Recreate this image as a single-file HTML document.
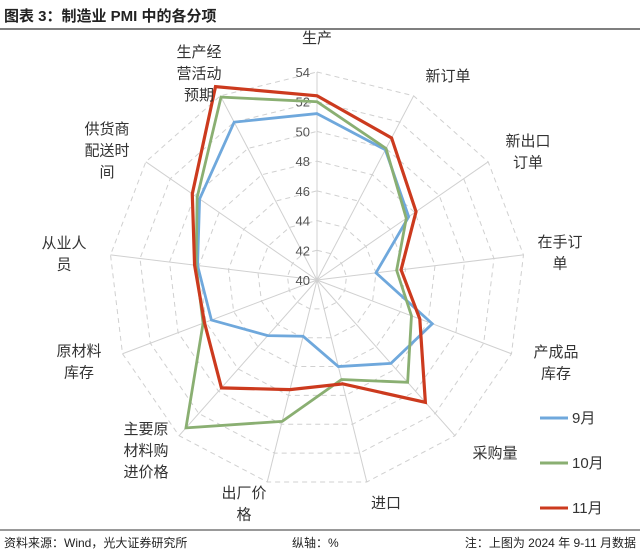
<!DOCTYPE html>
<html><head><meta charset="utf-8"><style>
body{margin:0;width:640px;height:555px;background:#fff;overflow:hidden;font-family:"Liberation Sans","Noto Sans CJK SC",sans-serif;}
svg text{font-family:"Liberation Sans","Noto Sans CJK SC",sans-serif;}
</style></head><body>
<svg id="chart" width="640" height="555">
<text x="4" y="21" font-size="15" font-weight="bold" fill="#222">图表 3：制造业 PMI 中的各分项</text>
<line x1="0" y1="29" x2="640" y2="29" stroke="#333" stroke-width="1.2"/>
<line x1="0" y1="530" x2="640" y2="530" stroke="#333" stroke-width="1"/>
<text x="4" y="547" font-size="12" fill="#222">资料来源：Wind，光大证券研究所</text>
<text x="292" y="547" font-size="12" fill="#222">纵轴：%</text>
<text x="636" y="547" font-size="12" fill="#222" text-anchor="end">注：上图为 2024 年 9-11 月数据</text>
<g id="grid"></g><g id="series"></g><g id="labels"></g><g id="legend"></g>
</svg>
<script>
const categories=["生产","新订单","新出口订单","在手订单","产成品库存","采购量","进口","出厂价格","主要原材料购进价格","原材料库存","从业人员","供货商配送时间","生产经营活动预期"];
const sep=[51.2,49.9,47.5,44.0,48.3,47.5,46.0,43.9,45.0,47.6,48.1,49.6,52.0];
const oct=[52.0,50.0,47.3,45.4,46.8,49.2,46.9,49.8,53.3,48.2,48.2,49.8,53.9];
const nov=[52.4,50.8,48.1,45.7,47.4,51.0,47.2,47.6,49.7,48.1,48.3,50.2,54.7];
const ticks=[40,42,44,46,48,50,52,54];
const seriesNames=["9月","10月","11月"];
const seriesColors=["#6fa8dc","#8aaf72","#cc3a1e"];
const labelLines=[["生产"],["新订单"],["新出口","订单"],["在手订","单"],["产成品","库存"],["采购量"],["进口"],["出厂价","格"],["主要原","材料购","进价格"],["原材料","库存"],["从业人","员"],["供货商","配送时","间"],["生产经","营活动","预期"]];
const labelAnchors=[[317,37],[448,75],[528,140],[560,241],[556,351],[495,452],[386,502],[244,492],[146,428],[79,350],[64,242],[107,128],[199,51]];
const cx=317,cy=280,R=208,vmin=40,vmax=54;
const NS="http://www.w3.org/2000/svg";
function r(v){return (v-vmin)/(vmax-vmin)*R;}
function ang(i){return i*2*Math.PI/categories.length;}
function pt(i,v){const a=ang(i),rr=r(v);return [cx+rr*Math.sin(a),cy-rr*Math.cos(a)];}
function mk(t,attrs,parent){const e=document.createElementNS(NS,t);for(const k in attrs)e.setAttribute(k,attrs[k]);parent.appendChild(e);return e;}
const grid=document.getElementById('grid');
ticks.forEach(function(t){
  if(t===vmin)return;
  const p=categories.map(function(c,i){return pt(i,t).join(',');}).join(' ');
  const g=mk('polygon',{points:p,fill:'none',stroke:'#d0d0d0','stroke-dasharray':'5,4','stroke-width':1},grid);
  
  
});
categories.forEach(function(c,i){
  const p=pt(i,vmax);
  const l=mk('line',{x1:cx,y1:cy,x2:p[0],y2:p[1],stroke:'#d0d0d0','stroke-width':1},grid);
  
  
});
ticks.forEach(function(t){
  const tx=mk('text',{x:cx-7,y:cy-r(t)+5,'font-size':13,fill:'#555','text-anchor':'end'},grid);
  tx.textContent=t;
  
  
});
const sg=document.getElementById('series');
[sep,oct,nov].forEach(function(vals,s){
  const p=vals.map(function(v,i){return pt(i,v).join(',');}).join(' ');
  const pg=mk('polygon',{points:p,fill:'none',stroke:seriesColors[s],'stroke-width':s===2?3.2:2.8,'stroke-linejoin':'miter'},sg);
  
  
});
const lg=document.getElementById('labels');
categories.forEach(function(c,i){
  const lines=labelLines[i];
  const lh=21.5;
  const xx=labelAnchors[i][0],y0=labelAnchors[i][1]+6;
  const tx=mk('text',{x:xx,y:y0,'font-size':15,fill:'#333','text-anchor':'middle'},lg);
  
  
  lines.forEach(function(L,k){const ts=mk('tspan',{x:xx,dy:k===0?0:lh},tx);ts.textContent=L;});
});
const leg=document.getElementById('legend');
seriesNames.forEach(function(n,s){
  const y=418+s*45;
  const ln=mk('line',{x1:540,y1:y,x2:568,y2:y,stroke:seriesColors[s],'stroke-width':3},leg);
  
  
  const tx=mk('text',{x:572,y:y+5,'font-size':15,fill:'#333'},leg);
  tx.textContent=n;
  
  
});
</script>
</body></html>
